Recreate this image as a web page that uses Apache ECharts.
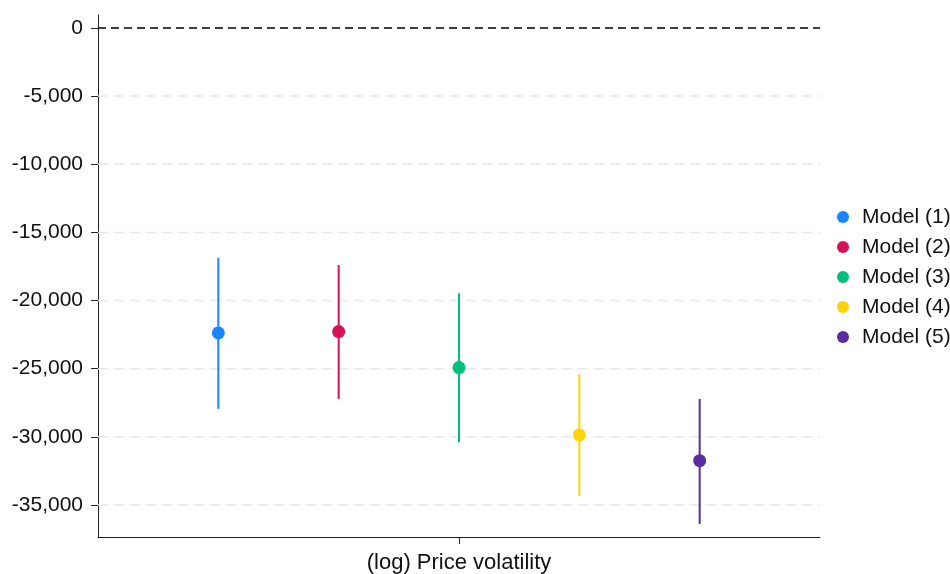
<!DOCTYPE html>
<html>
<head>
<meta charset="utf-8">
<script src="https://cdn.jsdelivr.net/npm/echarts@6/dist/echarts.min.js"></script>
<style>html,body{margin:0;padding:0;background:#fff}#c{width:950px;height:574px}</style>
</head>
<body>
<div id="c"></div>
<script>
const models = ['Model (1)', 'Model (2)', 'Model (3)', 'Model (4)', 'Model (5)'];
const positions = [1, 2, 3, 4, 5];
const estimates = [-22380, -22280, -24920, -29860, -31750];
const ciLow = [-27950, -27220, -30400, -34340, -36390];
const ciHigh = [-16870, -17390, -19470, -25410, -27220];
const colors = ['#1a85ff', '#d41159', '#00bf7d', '#ffd20a', '#5a2ca0'];
const yTicks = [0, -5000, -10000, -15000, -20000, -25000, -30000, -35000];
const xCategory = '(log) Price volatility';
const xTickPos = [3];
const xRange = [0, 6];
const yRange = [-37350, 950];

const FONT = 'Liberation Sans, Arial, sans-serif';
const fmt = v => v === 0 ? '0' : (v < 0 ? '-' : '') + Math.abs(v).toLocaleString('en-US');

const series = [];
yTicks.forEach(v => {
  series.push({
    name: 'grid ' + v,
    type: 'line',
    data: [[xRange[0], v], [xRange[1], v]],
    symbol: 'none',
    silent: true,
    lineStyle: v === 0
      ? { color: '#000', type: [8, 5], width: 1.5 }
      : { color: '#e8e8e8', type: [10, 6], width: 1.5 },
    z: 1
  });
});
models.forEach((m, i) => {
  series.push({
    name: m + ' CI',
    type: 'line',
    data: [[positions[i], ciLow[i]], [positions[i], ciHigh[i]]],
    symbol: 'none',
    lineStyle: { color: colors[i], width: 2 },
    itemStyle: { color: colors[i] },
    silent: true,
    z: 3
  });
  series.push({
    name: m,
    type: 'scatter',
    data: [[positions[i], estimates[i]]],
    symbol: 'circle',
    symbolSize: 13,
    itemStyle: { color: colors[i], opacity: 1 },
    z: 4
  });
});

const chart = echarts.init(document.getElementById('c'));
chart.setOption({
  animation: false,
  backgroundColor: '#fff',
  grid: { left: 98, right: 130, top: 15, bottom: 37, containLabel: false, outerBoundsMode: 'none' },
  legend: {
    data: models,
    orient: 'vertical',
    left: 837,
    top: 206,
    padding: 0,
    icon: 'circle',
    itemWidth: 12,
    itemHeight: 12,
    itemGap: 8,
    textStyle: { fontFamily: FONT, fontSize: 21, color: '#111', lineHeight: 22, padding: [0, 0, 0, 8] }
  },
  xAxis: {
    type: 'value',
    min: xRange[0],
    max: xRange[1],
    axisLine: { show: true, onZero: false, lineStyle: { color: '#222', width: 1 } },
    axisTick: { show: true, customValues: xTickPos, length: 7, lineStyle: { color: '#222' } },
    axisLabel: {
      customValues: xTickPos,
      formatter: () => xCategory,
      margin: 15,
      fontFamily: FONT, fontSize: 22, color: '#111'
    },
    splitLine: { show: false }
  },
  yAxis: {
    type: 'value',
    min: yRange[0],
    max: yRange[1],
    axisLine: { show: true, onZero: false, lineStyle: { color: '#222', width: 1 } },
    axisTick: { show: true, customValues: yTicks, length: 7, lineStyle: { color: '#222' } },
    axisLabel: {
      customValues: yTicks,
      formatter: v => fmt(v),
      margin: 15,
      fontFamily: FONT, fontSize: 21, color: '#111'
    },
    splitLine: { show: false }
  },
  series: series
});
</script>
</body>
</html>
